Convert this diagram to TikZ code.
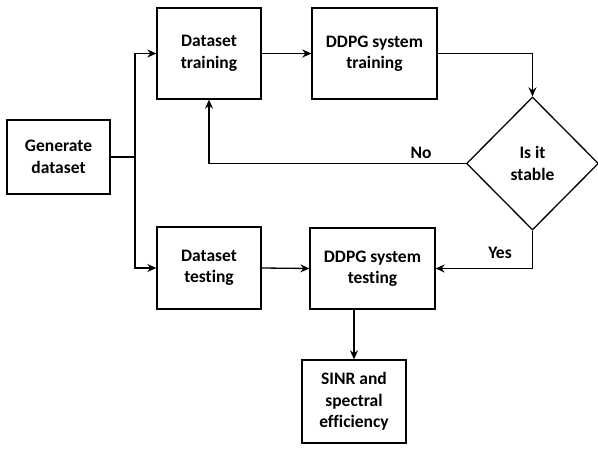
\documentclass[tikz,border=0pt]{standalone}
\usepackage{fontspec}
\setmainfont[Ligatures=NoCommon]{Carlito}
\usetikzlibrary{arrows.meta,shapes.geometric}
\begin{document}
\begin{tikzpicture}[x=1pt,y=-1pt,
  box/.style={draw,line width=1.3pt,font=\bfseries\fontsize{17.5}{21.5}\selectfont,align=center,inner sep=0pt},
  lbl/.style={font=\bfseries\fontsize{17.5}{21.5}\selectfont},
  conn/.style={line width=1.3pt},
  arr/.style={conn,-{Stealth[length=9pt,width=8pt]}}]
\useasboundingbox (0,0) rectangle (598,455);
\node[box,minimum width=103pt,minimum height=74pt] (gen) at (58.5,157) {Generate\\dataset};
\node[box,minimum width=104pt,minimum height=91pt] (dtr) at (209,53.5) {Dataset\\training};
\node[box,minimum width=125pt,minimum height=91pt] (ptr) at (374.5,53.5) {DDPG system\\training};
\node[box,shape=diamond,minimum width=132pt,minimum height=133pt,aspect=1] (dia) at (532.5,163.5) {Is it\\stable};
\node[box,minimum width=104pt,minimum height=82pt] (dte) at (209,268) {Dataset\\testing};
\node[box,minimum width=125pt,minimum height=81pt] (pte) at (372.5,268.5) {DDPG system\\testing};
\node[box,minimum width=104pt,minimum height=83pt] (sinr) at (354,401.5) {SINR and\\spectral\\efficiency};
\coordinate (j) at (135,157);
\draw[conn] (gen.east) -- (j);
\draw[arr] (j) |- (dtr.west);
\draw[arr] (j) |- (dte.west);
\draw[arr] (dtr.east) -- (ptr.west);
\draw[arr] (ptr.east) -| (dia.north);
\draw[arr] (dia.west) -| (dtr.south);
\draw[arr] (dia.south) |- (pte.east);
\draw[arr] (dte.east) -- (pte.west);
\draw[arr] (pte.south -| sinr.north) -- (sinr.north);
\node[lbl] (no) at (421,153) {No};
\node[lbl] (yes) at (500,253) {Yes};
\end{tikzpicture}
\end{document}
